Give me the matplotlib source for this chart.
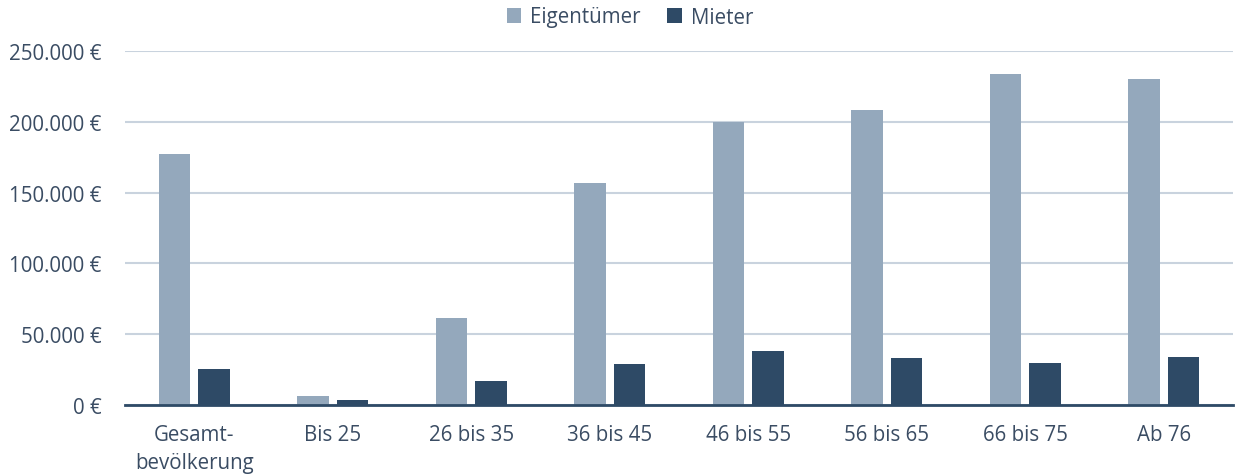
import numpy as np
import matplotlib
matplotlib.use('Agg')
import matplotlib.pyplot as plt

# data
categories = ['Gesamt-\nbevölkerung', 'Bis 25', '26 bis 35', '36 bis 45',
              '46 bis 55', '56 bis 65', '66 bis 75', 'Ab 76']
eigentuemer = [177000, 6100, 61700, 156800, 199600, 208300, 233800, 230000]
mieter = [25600, 3700, 16700, 28700, 38100, 33200, 29700, 33700]
yticks = [0, 50000, 100000, 150000, 200000, 250000]
ytick_labels = ['0 €', '50.000 €', '100.000 €', '150.000 €', '200.000 €', '250.000 €']

light = '#94A8BC'
dark = '#2E4A66'
txt = '#3A4C63'
grid = '#C9D3DE'

plt.rcParams['font.family'] = ['Open Sans', 'DejaVu Sans']

fig = plt.figure(figsize=(12.35, 4.77), dpi=100)
ax = fig.add_axes([125/1235, 1-406/477, 1108/1235, 354/477])

x = np.arange(len(categories))
w = 0.225
off = 0.1425
ax.bar(x - off, eigentuemer, w, color=light, label='Eigentümer', zorder=3)
ax.bar(x + off, mieter, w, color=dark, label='Mieter', zorder=3)

ax.set_xlim(-0.5, len(categories) - 0.5)
ax.set_ylim(0, 250000)
ax.set_yticks(yticks)
ax.set_yticklabels(ytick_labels)
ax.set_xticks(x)
ax.set_xticklabels(categories, linespacing=1.4)
ax.tick_params(axis='both', length=0, labelsize=14.8, colors=txt)
ax.tick_params(axis='y', pad=17)
ax.tick_params(axis='x', pad=14)
for lbl in ax.get_xticklabels() + ax.get_yticklabels():
    lbl.set_color(txt)

ax.grid(axis='y', color=grid, linewidth=1.5, zorder=0)
for s in ['top', 'right', 'left']:
    ax.spines[s].set_visible(False)
ax.spines['bottom'].set_color(dark)
ax.spines['bottom'].set_linewidth(2)
ax.spines['bottom'].set_zorder(4)

leg = fig.legend(loc='center', bbox_to_anchor=(630/1235, 1-18/477), ncol=2,
                 frameon=False, fontsize=14.8, handlelength=0.7, handleheight=0.7,
                 handletextpad=0.45, columnspacing=1.3)
for t in leg.get_texts():
    t.set_color(txt)

fig.savefig('out.png', dpi=100)
